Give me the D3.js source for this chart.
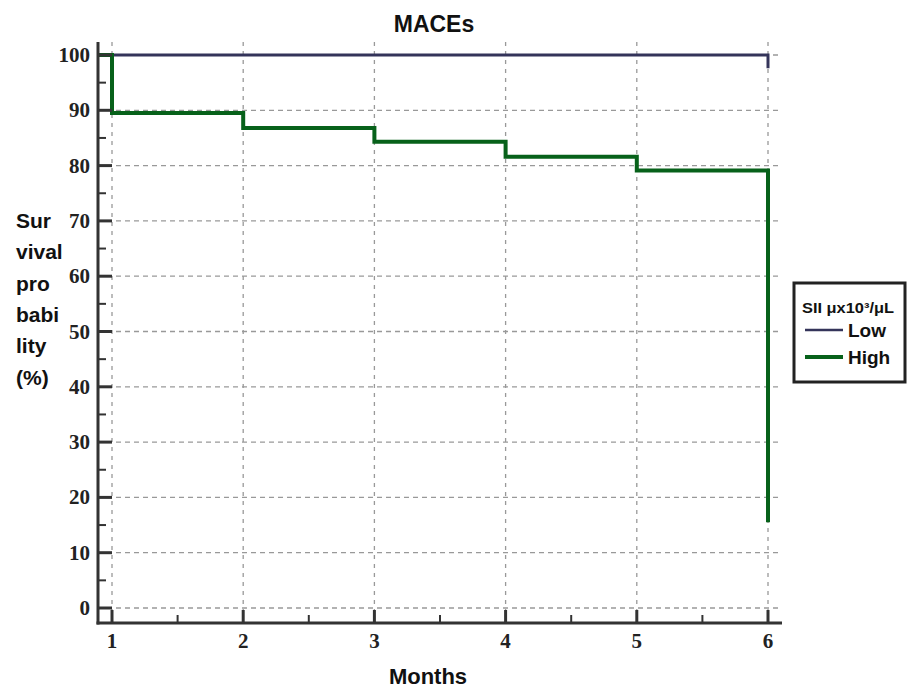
<!DOCTYPE html>
<html><head><meta charset="utf-8">
<script src="https://cdn.jsdelivr.net/npm/d3@7"></script>
<style>body{margin:0;background:#fff}svg{display:block}</style>
</head><body>
<script>
// ---- data ----
const title = "MACEs";
const xLabel = "Months";
const yLabelLines = ["Sur","vival","pro","babi","lity","(%)"];
const xTicks = [1,2,3,4,5,6];
const yTicks = [0,10,20,30,40,50,60,70,80,90,100];
const seriesNames = ["Low","High"];
const legendTitle = "SII \u03bcx10\u00b3/\u03bcL";
// event times (months) and survival (%) after each step; curve starts at 100 at time 0
const stepTimes = [1,2,3,4,5,6];
const lowSurvival = [100,100,100,100,100,97.6];
const highSurvival = [89.5,86.8,84.3,81.6,79.1,15.5];
const colors = {Low:"#34345a", High:"#07611a"};

const W=908,H=690;
const svg=d3.select("body").append("svg").attr("width",W).attr("height",H);
const x=d3.scaleLinear().domain([1,6]).range([112,768]);
const y=d3.scaleLinear().domain([0,100]).range([608,55]);
const xMin=x.invert(98), xMax=x.invert(782);
const yTop=y.invert(42), yBot=y.invert(623);

// grid
const g=svg.append("g");
g.selectAll(".hg").data(yTicks).join("line")
 .attr("x1",x(xMin)).attr("x2",x(xMax)).attr("y1",d=>y(d)).attr("y2",d=>y(d))
 .attr("stroke","#999").attr("stroke-width",1.3).attr("stroke-dasharray","5,4");
g.selectAll(".vg").data(xTicks).join("line")
 .attr("y1",y(yTop)).attr("y2",y(yBot)).attr("x1",d=>x(d)).attr("x2",d=>x(d))
 .attr("stroke","#999").attr("stroke-width",1.3).attr("stroke-dasharray","4,5");

// curves
svg.append("clipPath").attr("id","clip").append("rect")
 .attr("x",x(xMin)).attr("y",y(yTop)-5).attr("width",x(xMax)-x(xMin)).attr("height",y(yBot)-y(yTop)+5);
function pts(vals){const p=[[0,100]];stepTimes.forEach((t,i)=>p.push([t,vals[i]]));return p;}
const line=d3.line().x(d=>x(d[0])).y(d=>y(d[1])).curve(d3.curveStepAfter);
const cg=svg.append("g").attr("clip-path","url(#clip)");
cg.append("path").attr("d",line(pts(lowSurvival))).attr("fill","none")
 .attr("stroke",colors.Low).attr("stroke-width",3);
cg.append("path").attr("d",line(pts(highSurvival))).attr("fill","none")
 .attr("stroke",colors.High).attr("stroke-width",4);

// axes
const axisCol="#333";
svg.append("line").attr("x1",98).attr("x2",98).attr("y1",y(yTop)).attr("y2",y(yBot)+1.5)
 .attr("stroke",axisCol).attr("stroke-width",3);
svg.append("line").attr("x1",x(xMin)-1.5).attr("x2",x(xMax)).attr("y1",y(yBot)).attr("y2",y(yBot))
 .attr("stroke",axisCol).attr("stroke-width",3);
// y ticks
svg.selectAll(".yt").data(yTicks).join("line").attr("x1",98).attr("x2",112)
 .attr("y1",d=>y(d)).attr("y2",d=>y(d)).attr("stroke",axisCol).attr("stroke-width",3);
svg.selectAll(".ytm").data(yTicks.slice(0,-1).map(d=>d+5)).join("line").attr("x1",98).attr("x2",106)
 .attr("y1",d=>y(d)).attr("y2",d=>y(d)).attr("stroke",axisCol).attr("stroke-width",2);
svg.selectAll(".ytl").data(yTicks).join("text").attr("x",90).attr("y",d=>y(d)+7)
 .attr("text-anchor","end").attr("font-family","'Liberation Serif',serif").attr("font-weight","bold")
 .attr("font-size",21).attr("fill","#222").text(d=>d);
// x ticks
svg.selectAll(".xt").data(xTicks).join("line").attr("y1",y(yBot)).attr("y2",y(yBot)-13)
 .attr("x1",d=>x(d)).attr("x2",d=>x(d)).attr("stroke",axisCol).attr("stroke-width",3);
svg.selectAll(".xtm").data(xTicks.slice(0,-1).map(d=>d+0.5)).join("line").attr("y1",y(yBot)).attr("y2",y(yBot)-8)
 .attr("x1",d=>x(d)).attr("x2",d=>x(d)).attr("stroke",axisCol).attr("stroke-width",2);
svg.selectAll(".xtl").data(xTicks).join("text").attr("x",d=>x(d)).attr("y",648)
 .attr("text-anchor","middle").attr("font-family","'Liberation Serif',serif").attr("font-weight","bold")
 .attr("font-size",21).attr("fill","#222").text(d=>d);

// titles
const sans="'Liberation Sans',Arial,sans-serif";
svg.append("text").attr("x",434).attr("y",32).attr("text-anchor","middle").attr("font-family",sans)
 .attr("font-weight","bold").attr("font-size",23).attr("fill","#111").text(title);
svg.append("text").attr("x",428).attr("y",684).attr("text-anchor","middle").attr("font-family",sans)
 .attr("font-weight","bold").attr("font-size",22).attr("fill","#111").text(xLabel);
svg.selectAll(".yl").data(yLabelLines).join("text").attr("x",16).attr("y",(d,i)=>228+i*31.3)
 .attr("font-family",sans).attr("font-weight","bold").attr("font-size",21).attr("fill","#111").text(d=>d);

// legend
const lg=svg.append("g");
lg.append("rect").attr("x",794).attr("y",283).attr("width",111).attr("height",99)
 .attr("fill","#fff").attr("stroke","#222").attr("stroke-width",3);
lg.append("text").attr("x",802).attr("y",313).attr("font-family",sans).attr("font-weight","bold")
 .attr("font-size",14).attr("textLength",92).attr("lengthAdjust","spacingAndGlyphs").attr("fill","#111").text(legendTitle);
seriesNames.forEach((s,i)=>{
  const yy=330+i*27;
  lg.append("line").attr("x1",805).attr("x2",843).attr("y1",yy).attr("y2",yy)
    .attr("stroke",colors[s]).attr("stroke-width",i?4:2.5);
  lg.append("text").attr("x",848).attr("y",yy+7).attr("font-family",sans).attr("font-weight","bold")
    .attr("font-size",19).attr("fill","#111").text(s);
});
</script>
</body></html>
